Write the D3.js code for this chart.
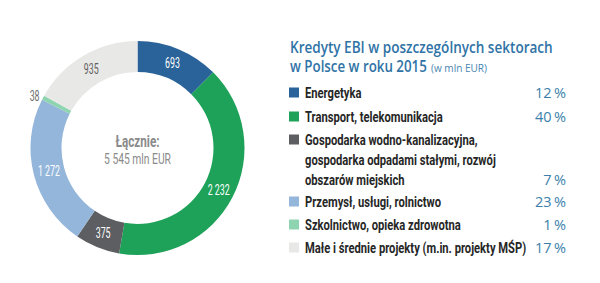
<!DOCTYPE html>
<html><head><meta charset="utf-8">
<script src="https://cdn.jsdelivr.net/npm/d3@7"></script>
<style>body{margin:0;background:#fff}svg{display:block}</style>
</head><body>
<svg id="c" width="600" height="283"></svg>
<script>
const categories = ["Energetyka","Transport, telekomunikacja","Gospodarka wodno-kanalizacyjna, gospodarka odpadami stałymi, rozwój obszarów miejskich","Przemysł, usługi, rolnictwo","Szkolnictwo, opieka zdrowotna","Małe i średnie projekty (m.in. projekty MŚP)"];
const values = [693, 2232, 375, 1272, 38, 935];
const valueLabels = ["693","2 232","375","1 272","38","935"];
const percents = ["12\u2009%","40\u2009%","7\u2009%","23\u2009%","1\u2009%","17\u2009%"];
const legendLines = [["Energetyka"],["Transport, telekomunikacja"],["Gospodarka wodno-kanalizacyjna,","gospodarka odpadami stałymi, rozwój","obszarów miejskich"],["Przemysł, usługi, rolnictwo"],["Szkolnictwo, opieka zdrowotna"],["Małe i średnie projekty (m.in. projekty MŚP)"]];
const totalLabel = ["Łącznie:", "5 545 mln EUR"];
const titleLines = ["Kredyty EBI w poszczególnych sektorach", "w Polsce w roku 2015", "(w mln EUR)"];
const colors = ["#2a6399","#1ea259","#5c5e62","#94b6db","#8fd4b0","#e8e8e6"];
const labelColors = ["#fff","#fff","#fff","#fff","#6d6d6d","#5f5f5f"];

const svg = d3.select("#c");
const cx = 137.5, cy = 148, R = 107, r = 76;

function measure(str, family, weight, size) {
  const t = svg.append("text").style("font-family", family).style("font-weight", weight).style("font-size", size + "px").text(str);
  const w = t.node().getComputedTextLength(); t.remove(); return w;
}
function ctext(parent, x, y, f, str, family, weight, size, fill, anchor) {
  const gg = parent.append("g").attr("transform", `translate(${x},${y}) scale(${f},1)`);
  return gg.append("text").attr("text-anchor", anchor || "start").attr("fill", fill)
    .style("font-family", family).style("font-weight", weight).style("font-size", size + "px").text(str);
}

const cf = "Roboto, 'Liberation Sans', sans-serif";
const tf = "'Open Sans', 'Noto Sans', sans-serif";

const pie = d3.pie().sort(null).value(d => d);
const arcs = pie(values);
const arc = d3.arc().innerRadius(r).outerRadius(R);
const g = svg.append("g").attr("transform", `translate(${cx},${cy})`);
g.selectAll("path").data(arcs).enter().append("path")
  .attr("d", arc).attr("fill", (d,i) => colors[i]);

const labF = 22 / measure("2 232", cf, 400, 14);
arcs.forEach((d,i) => {
  let x, y, anchor = "middle";
  if (i === 4) {
    const a = (d.startAngle + d.endAngle) / 2, rr = R + 4;
    x = Math.sin(a) * rr; y = -Math.cos(a) * rr; anchor = "end";
  } else {
    [x, y] = arc.centroid(d);
  }
  ctext(g, x, y + 5, labF, valueLabels[i], cf, 400, 14, labelColors[i], anchor);
});

const cF1 = 44 / measure(totalLabel[0], cf, 700, 17);
ctext(g, 0, -1, cF1, totalLabel[0], cf, 700, 17, "#8a8a8a", "middle");
const cF2 = 67 / measure(totalLabel[1], cf, 400, 14);
ctext(g, 0, 16, cF2, totalLabel[1], cf, 400, 14, "#8a8a8a", "middle");

// title
const tSize = 15.5;
const tF1 = 263 / measure(titleLines[0], tf, 600, tSize);
ctext(svg, 290, 53, tF1, titleLines[0], tf, 600, tSize, "#2f73a6");
const tF2 = 137 / measure(titleLines[1], tf, 600, tSize);
ctext(svg, 290, 72, tF2, titleLines[1], tf, 600, tSize, "#2f73a6");
const tF3 = 56 / measure(titleLines[2], tf, 400, 10.5);
ctext(svg, 431, 72, tF3, titleLines[2], tf, 400, 10.5, "#4a86b3");

// legend
const rowY = [98, 122, 145, 207, 230, 253];
const lineH = 20;
const legSize = 14;
const legF = 138 / measure("Transport, telekomunikacja", cf, 700, legSize);
categories.forEach((c,i) => {
  const y = rowY[i];
  svg.append("rect").attr("x",289).attr("y",y-10.5).attr("width",10).attr("height",10).attr("fill",colors[i]);
  const lines = legendLines[i];
  lines.forEach((ln,j) => {
    ctext(svg, 305, y + j*lineH, legF, ln, cf, 700, legSize, "#262626");
  });
  svg.append("text").attr("x",566).attr("y",y + (lines.length-1)*lineH).attr("text-anchor","end")
    .attr("fill","#3b7fab").style("font-family",tf).style("font-size","14.5px").text(percents[i]);
});
</script>
</body></html>
